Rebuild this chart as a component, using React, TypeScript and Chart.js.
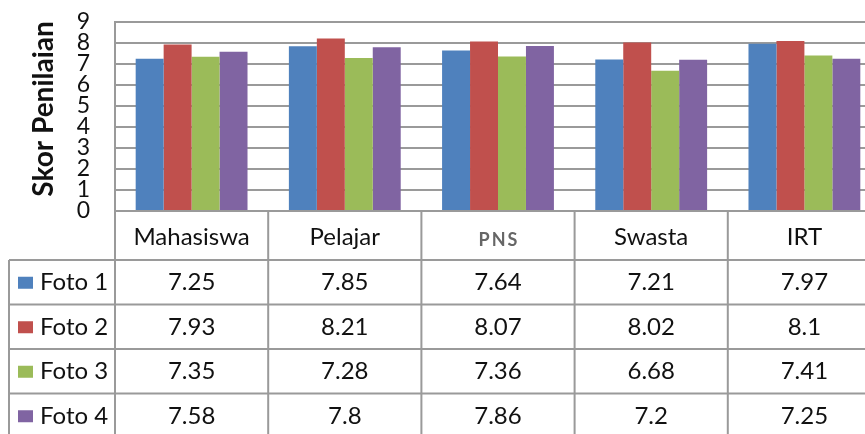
import React, { useEffect, useRef } from "react";
import { Chart, registerables } from "chart.js";

Chart.register(...registerables);

const categories = ["Mahasiswa", "Pelajar", "PNS", "Swasta", "IRT"];
const seriesLabels = ["Foto 1", "Foto 2", "Foto 3", "Foto 4"];
const foto1 = [7.25, 7.85, 7.64, 7.21, 7.97];
const foto2 = [7.93, 8.21, 8.07, 8.02, 8.1];
const foto3 = [7.35, 7.28, 7.36, 6.68, 7.41];
const foto4 = [7.58, 7.8, 7.86, 7.2, 7.25];
const seriesValues = [foto1, foto2, foto3, foto4];
const seriesColors = ["#4F81BD", "#C0504D", "#9BBB59", "#8064A2"];
const yTitle = "Skor Penilaian";
const yMin = 0;
const yMax = 9;
const yStep = 1;

const FONT = "Lato, 'Open Sans', sans-serif";
const LINE = "#9a9a9a";

const tablePlugin = {
  id: "dataTable",
  afterDraw(chart: any) {
    const { ctx, chartArea, scales } = chart;
    const xs = scales.x;
    const left = chartArea.left;
    const right = chartArea.right;
    const top = chartArea.bottom;
    const headerH = 49;
    const rowH = 44.5;
    const bottom = 440;
    const legendLeft = 9;
    const n = categories.length;
    const centers = categories.map((_, i) => xs.getPixelForValue(i));
    const bounds: number[] = [left];
    for (let i = 0; i < n - 1; i++) bounds.push((centers[i] + centers[i + 1]) / 2);
    bounds.push(right);

    ctx.save();
    ctx.strokeStyle = LINE;
    ctx.lineWidth = 2;
    ctx.beginPath();
    ctx.moveTo(left, top);
    ctx.lineTo(right, top);
    for (let r = 0; r < seriesLabels.length; r++) {
      const y = top + headerH + r * rowH;
      ctx.moveTo(legendLeft, y);
      ctx.lineTo(right, y);
    }
    ctx.moveTo(left, chartArea.top);
    ctx.lineTo(left, bottom);
    for (let i = 1; i < bounds.length; i++) {
      ctx.moveTo(bounds[i], top);
      ctx.lineTo(bounds[i], bottom);
    }
    ctx.moveTo(legendLeft, top + headerH);
    ctx.lineTo(legendLeft, bottom);
    ctx.stroke();

    ctx.textAlign = "center";
    ctx.textBaseline = "middle";
    categories.forEach((c, i) => {
      if (c === "PNS") {
        ctx.font = `bold 18px ${FONT}`;
        ctx.fillStyle = "#666";
        try { (ctx as any).letterSpacing = "2px"; } catch (e) {}
        ctx.fillText(c, centers[i] + 1, top + 29);
        try { (ctx as any).letterSpacing = "0px"; } catch (e) {}
      } else {
        ctx.font = `24px ${FONT}`;
        ctx.fillStyle = "#111";
        ctx.fillText(c, centers[i], top + 26);
      }
    });

    seriesLabels.forEach((lab, r) => {
      const cy = top + headerH + r * rowH + rowH / 2 + 0.5;
      ctx.fillStyle = seriesColors[r];
      ctx.fillRect(18, cy - 6, 15, 12);
      ctx.font = `24px ${FONT}`;
      ctx.fillStyle = "#111";
      ctx.textAlign = "left";
      ctx.fillText(lab, 40, cy);
      ctx.textAlign = "center";
      seriesValues[r].forEach((v, i) => {
        ctx.fillText(String(v), centers[i], cy);
      });
    });

    ctx.save();
    ctx.translate(44, 109);
    ctx.rotate(-Math.PI / 2);
    ctx.font = `bold 28px ${FONT}`;
    ctx.fillStyle = "#111";
    ctx.textAlign = "center";
    ctx.textBaseline = "middle";
    ctx.fillText(yTitle, 0, 0);
    ctx.restore();

    ctx.restore();
  },
};

export default function App() {
  const ref = useRef<HTMLCanvasElement>(null);
  useEffect(() => {
    if (!ref.current) return;
    const chart = new Chart(ref.current, {
      type: "bar",
      data: {
        labels: categories,
        datasets: seriesLabels.map((l, i) => ({
          label: l,
          data: seriesValues[i],
          backgroundColor: seriesColors[i],
          borderWidth: 0,
          categoryPercentage: 0.73,
          barPercentage: 1,
        })),
      },
      options: {
        responsive: false,
        animation: false,
        devicePixelRatio: 1,
        layout: { padding: { left: 0, right: 0, top: 22, bottom: 223 } },
        plugins: { legend: { display: false }, tooltip: { enabled: false } },
        scales: {
          x: { display: false },
          y: {
            min: yMin,
            max: yMax,
            ticks: {
              stepSize: yStep,
              autoSkip: false,
              padding: 25,
              color: "#111",
              font: { family: FONT, size: 23, lineHeight: 0.9 },
            },
            grid: { color: LINE, lineWidth: 2, drawTicks: false },
            border: { display: true, color: LINE, width: 2 },
            afterFit: (s: any) => {
              s.width = 115;
              s.paddingTop = 0;
              s.paddingBottom = 0;
            },
          },
        },
      },
      plugins: [tablePlugin],
    });
    return () => chart.destroy();
  }, []);
  return (
    <div
      style={{
        position: "fixed",
        left: 0,
        top: 0,
        width: 865,
        height: 434,
        overflow: "hidden",
        background: "#fff",
      }}
    >
      <canvas ref={ref} width={881} height={434} style={{ width: 881, height: 434, display: "block" }} />
    </div>
  );
}
